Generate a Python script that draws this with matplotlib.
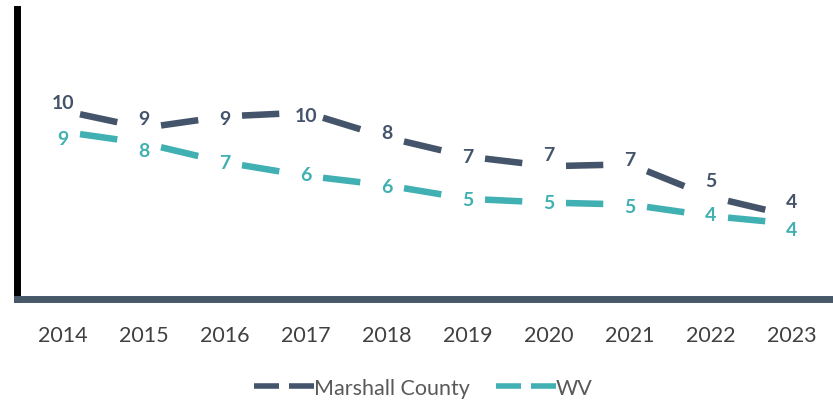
import numpy as np
import matplotlib.pyplot as plt
from matplotlib.lines import Line2D

# data
years = [2014, 2015, 2016, 2017, 2018, 2019, 2020, 2021, 2022, 2023]
marshall = [9.7, 8.8, 9.4, 9.6, 8.3, 7.3, 6.8, 6.9, 5.2, 4.2]
wv = [8.6, 8.0, 7.0, 6.3, 5.8, 5.1, 4.9, 4.8, 4.2, 3.8]
series_names = ["Marshall County", "WV"]

# label nudges in pixels (positive = up), as the labels sit in the original
nudge_m = [8.6, 8.9, -1.8, -3.0, 4.5, 0.0, 11.5, 5.0, 16.0, 14.5]
nudge_wv = [-6.3, -6.8, -0.6, 0.8, -1.6, -0.2, -0.3, -2.4, 1.1, -6.2]

navy = "#44546A"
teal = "#40B0B3"

plt.rcParams['font.family'] = ['Lato', 'DejaVu Sans']
plt.rcParams['lines.scale_dashes'] = False

fig = plt.figure(figsize=(8.33, 4.02), dpi=100)
W, H = 833, 402
ax = fig.add_axes([16.5 / W, (H - 299.5) / H, (W - 16.5) / W, (299.5 - 10) / H])
ax.set_xlim(2013.426, 2023.506)
ax.set_ylim(-0.1, 15)


# Each interval shows one long dash in its middle, like the original
def dashed_line(xs, ys, color):
    pts = ax.transData.transform(np.column_stack([xs, ys]))
    for i in range(len(xs) - 1):
        seg = np.hypot(*(pts[i + 1] - pts[i])) * 72 / fig.dpi
        on = 0.46 * seg
        off = 3 * seg
        ax.plot(xs[i:i + 2], ys[i:i + 2], color=color, lw=4.7,
                linestyle=(on + off - 0.21 * seg, (on, off)),
                dash_capstyle='butt')


dashed_line(years, marshall, navy)
dashed_line(years, wv, teal)

# data labels
for x, v, d in zip(years, marshall, nudge_m):
    ax.annotate(f"{v:.0f}", (x, v), xytext=(0, d * 0.72), textcoords='offset points',
                ha='center', va='center', fontsize=14, fontweight='bold', color=navy)
for x, v, d in zip(years, wv, nudge_wv):
    ax.annotate(f"{v:.0f}", (x, v), xytext=(0, d * 0.72), textcoords='offset points',
                ha='center', va='center', fontsize=14, fontweight='bold', color=teal)

# axes styling
for s in ['top', 'right']:
    ax.spines[s].set_visible(False)
ax.spines['left'].set_color('black')
ax.spines['left'].set_linewidth(5)
ax.spines['bottom'].set_color('#475869')
ax.spines['bottom'].set_linewidth(5)
ax.set_yticks([])
ax.set_xticks(years)
ax.set_xticklabels([str(y) for y in years])
ax.tick_params(axis='x', length=0, pad=19, labelsize=15.5, labelcolor='#404040')

# legend
handles = [Line2D([], [], color=navy, lw=4, linestyle=(0, (18, 7.2))),
           Line2D([], [], color=teal, lw=4, linestyle=(0, (18, 7.2)))]
fig.legend(handles, series_names, loc='center', bbox_to_anchor=(0.508, 1 - 389 / H),
           ncol=2, frameon=False, fontsize=15.5, handlelength=2.8, handletextpad=0.0,
           columnspacing=1.2, labelcolor='#595959')

plt.savefig("out.png", dpi=100)
